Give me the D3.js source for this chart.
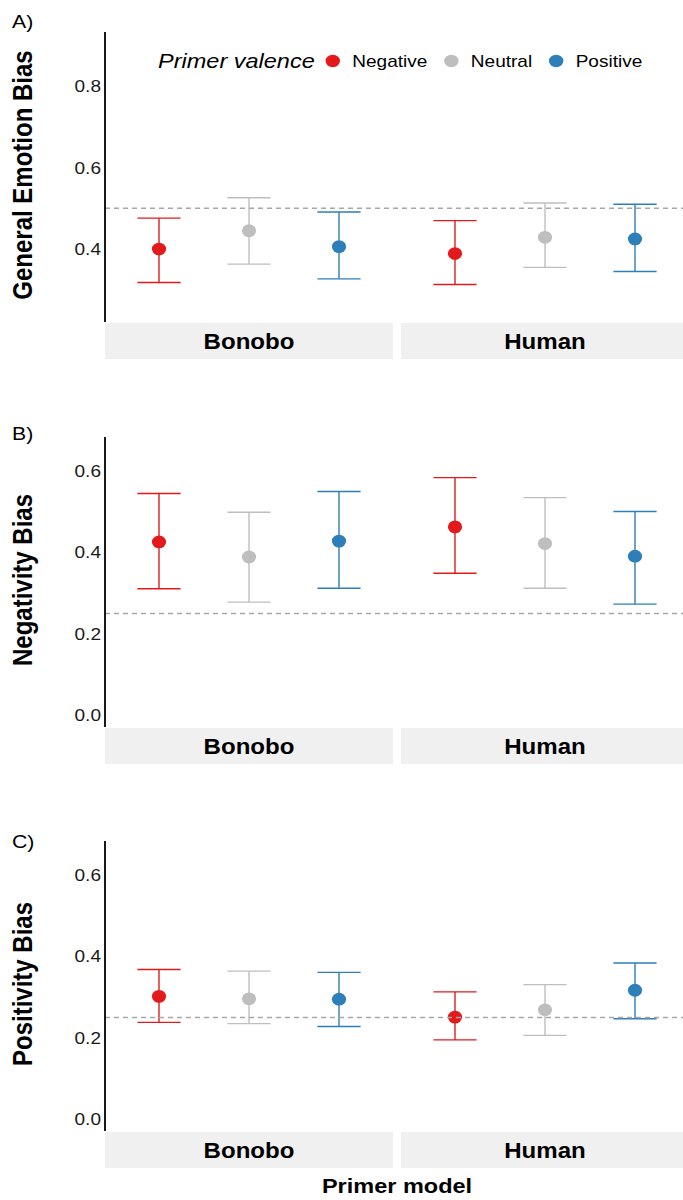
<!DOCTYPE html>
<html>
<head>
<meta charset="utf-8">
<script src="https://cdn.jsdelivr.net/npm/d3@7"></script>
<style>
  body { margin: 0; background: #fff; }
  text { font-family: "Liberation Sans", Arial, sans-serif; }
</style>
</head>
<body>
<div id="chart"></div>
<script>
// categories
const models = ["Bonobo", "Human"];
const valences = ["Negative", "Neutral", "Positive"];
const colors = ["#E31A1C", "#BEBEBE", "#2C7FB8"];

// values in order: Bonobo (Neg, Neu, Pos), Human (Neg, Neu, Pos)
const generalMean = [0.400, 0.445, 0.406, 0.389, 0.429, 0.425];
const generalLow  = [0.318, 0.363, 0.327, 0.313, 0.355, 0.345];
const generalHigh = [0.476, 0.526, 0.491, 0.470, 0.513, 0.510];

const negMean = [0.426, 0.389, 0.428, 0.463, 0.422, 0.391];
const negLow  = [0.311, 0.278, 0.312, 0.349, 0.312, 0.273];
const negHigh = [0.545, 0.499, 0.550, 0.584, 0.535, 0.501];

const posMean = [0.302, 0.296, 0.295, 0.251, 0.269, 0.317];
const posLow  = [0.238, 0.235, 0.228, 0.195, 0.206, 0.247];
const posHigh = [0.368, 0.364, 0.361, 0.313, 0.331, 0.384];

const ticksA = [0.4, 0.6, 0.8];
const ticksBC = [0.0, 0.2, 0.4, 0.6];

const panels = [
  {tag: "A)", title: "General Emotion Bias", mean: generalMean, low: generalLow, high: generalHigh,
   domain: [0.221, 0.933], ticks: ticksA, ref: 0.5, top: 32, tagY: 28},
  {tag: "B)", title: "Negativity Bias", mean: negMean, low: negLow, high: negHigh,
   domain: [-0.029, 0.684], ticks: ticksBC, ref: 0.25, top: 437, tagY: 440},
  {tag: "C)", title: "Positivity Bias", mean: posMean, low: posLow, high: posHigh,
   domain: [-0.029, 0.684], ticks: ticksBC, ref: 0.25, top: 841, tagY: 848}
];

const W = 683, H = 1200;
const left = 105, facetW = 288, facetGap = 8, panelH = 290, stripH = 36;
const SX = 1.12; // the figure is a bit wider than tall

const svg = d3.select("#chart").append("svg")
  .attr("width", W).attr("height", H);

// text with horizontal stretch
function label(parent, x, y, str, size, opts = {}) {
  const t = parent.append("text")
    .attr("transform", "translate(" + x + "," + y + ") scale(" + SX + ",1)" + (opts.rotate ? " rotate(" + opts.rotate + ")" : ""))
    .attr("font-size", size)
    .attr("text-anchor", opts.anchor || "start")
    .attr("fill", opts.fill || "#000")
    .text(str);
  if (opts.bold) t.attr("font-weight", "bold");
  if (opts.italic) t.attr("font-style", "italic");
  if (opts.dy) t.attr("dy", opts.dy);
  return t;
}

const x = d3.scalePoint().domain(valences).range([0, facetW]).padding(0.6);
const capHalf = x.step() * 0.24;

panels.forEach(p => {
  const y = d3.scaleLinear().domain(p.domain).range([p.top + panelH, p.top]);
  const g = svg.append("g");

  label(g, 12, p.tagY, p.tag, 19);

  // y title
  label(g, 32, p.top + panelH / 2 - 2, p.title, 24, {rotate: -90, anchor: "middle", bold: true});

  // tick labels
  p.ticks.forEach(d => {
    label(g, left - 4, y(d), d3.format(".1f")(d), 17, {anchor: "end", dy: "0.35em", fill: "#1a1a1a"});
  });

  models.forEach((m, mi) => {
    const fx = left + mi * (facetW + facetGap);

    // strip
    g.append("rect").attr("x", fx).attr("y", p.top + panelH + 1)
      .attr("width", facetW).attr("height", stripH).attr("fill", "#F0F0F0");
    label(g, fx + facetW / 2, p.top + panelH + 1 + stripH / 2, m, 21.5,
      {anchor: "middle", bold: true, dy: "0.36em"});

    const rows = valences.map((v, vi) => ({
      v, c: colors[vi], mean: p.mean[mi * 3 + vi], low: p.low[mi * 3 + vi], high: p.high[mi * 3 + vi]
    }));

    const eg = g.append("g").attr("transform", "translate(" + fx + ",0)");
    eg.selectAll(".vl").data(rows).join("line")
      .attr("x1", d => x(d.v)).attr("x2", d => x(d.v))
      .attr("y1", d => y(d.low)).attr("y2", d => y(d.high))
      .attr("stroke", d => d.c).attr("stroke-width", 1.4);
    ["low", "high"].forEach(k => {
      eg.selectAll(".cap" + k).data(rows).join("line")
        .attr("x1", d => x(d.v) - capHalf).attr("x2", d => x(d.v) + capHalf)
        .attr("y1", d => y(d[k])).attr("y2", d => y(d[k]))
        .attr("stroke", d => d.c).attr("stroke-width", 1.4);
    });
    eg.selectAll(".pt").data(rows).join("ellipse")
      .attr("cx", d => x(d.v)).attr("cy", d => y(d.mean)).attr("rx", 7.1).attr("ry", 6.4)
      .attr("fill", d => d.c);
  });

  // reference line over both facets
  g.append("line").attr("x1", left).attr("x2", W)
    .attr("y1", y(p.ref)).attr("y2", y(p.ref))
    .attr("stroke", "#A8A8A8").attr("stroke-width", 1.5).attr("stroke-dasharray", "5,4");

  // y axis line
  g.append("line").attr("x1", left).attr("x2", left)
    .attr("y1", p.top).attr("y2", p.top + panelH)
    .attr("stroke", "#000").attr("stroke-width", 1.8);
});

// legend
const lg = svg.append("g").attr("transform", "translate(158,61)");
const lt = label(lg, 0, 0, "Primer valence", 21, {italic: true, dy: "0.35em"});
let lx = lt.node().getComputedTextLength() * SX + 18;
valences.forEach((v, i) => {
  lg.append("ellipse").attr("cx", lx).attr("cy", 0).attr("rx", 7.2).attr("ry", 6.2).attr("fill", colors[i]);
  const t = label(lg, lx + 19.5, 0, v, 17, {dy: "0.35em"});
  lx += 19.5 + t.node().getComputedTextLength() * SX + 24;
});

// x title
label(svg, left + (2 * facetW + facetGap) / 2, 1193, "Primer model", 21, {anchor: "middle", bold: true});
</script>
</body>
</html>
